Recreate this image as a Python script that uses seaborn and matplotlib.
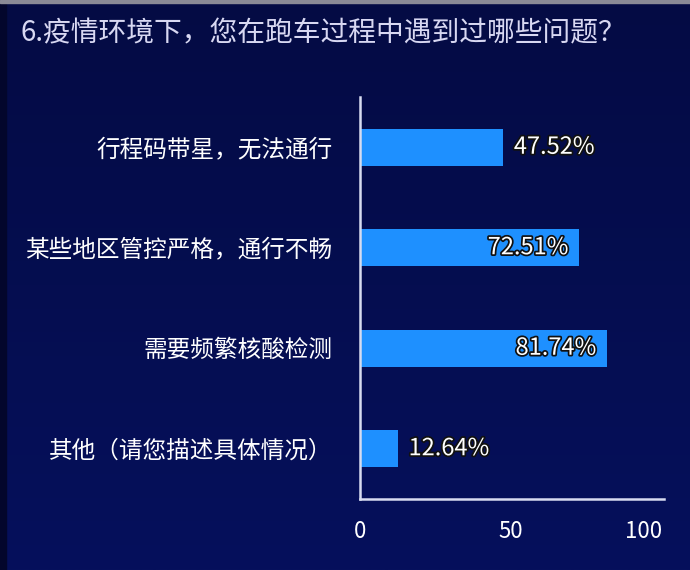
import numpy as np
import pandas as pd
import matplotlib
matplotlib.use("Agg")
import matplotlib.pyplot as plt
import matplotlib.patheffects as pe
from matplotlib.colors import LinearSegmentedColormap
import seaborn as sns

title = "6.疫情环境下，您在跑车过程中遇到过哪些问题？"
categories = ["行程码带星，无法通行", "某些地区管控严格，通行不畅", "需要频繁核酸检测", "其他（请您描述具体情况）"]
values = [47.52, 72.51, 81.74, 12.64]
xticks = [0, 50, 100]

sns.set_theme(style="white")
plt.rcParams['font.family'] = ['Noto Sans CJK SC', 'DejaVu Sans']

fig = plt.figure(figsize=(6.9, 5.7), dpi=100)

# background gradient
bg = fig.add_axes([0, 0, 1, 1], zorder=-10)
grad = np.linspace(0, 1, 256).reshape(-1, 1)
cmap = LinearSegmentedColormap.from_list("bg", ["#040b44", "#06105c"])
bg.imshow(grad, aspect="auto", cmap=cmap, extent=[0, 1, 0, 1], origin="upper")
bg.add_patch(plt.Rectangle((0, 0), 0.008, 1, color="#03062c", transform=bg.transAxes))
bg.add_patch(plt.Rectangle((0, 0.995), 1, 0.005, color="#8a8a96", transform=bg.transAxes))
bg.set_axis_off()

ax = fig.add_axes([0.5217, 0.1246, 0.4406, 0.7052])
ax.patch.set_alpha(0)

df = pd.DataFrame({"cat": categories, "val": values})
sns.barplot(data=df, x="val", y="cat", orient="h", color="#1e90ff",
            saturation=1, width=0.37, linewidth=0, edgecolor="none", ax=ax)

ax.set_xlim(0, 100.7)
ax.set_xticks(xticks)
ax.set_xticklabels([str(t) for t in xticks], fontsize=16, color="white")
ax.get_xticklabels()[-1].set_ha("right")
ax.set_xlabel("")
ax.set_ylabel("")
ax.tick_params(axis="x", length=0, pad=15)
ax.tick_params(axis="y", length=0, pad=20)
for lbl in ax.get_yticklabels():
    lbl.set_fontsize(17)
    lbl.set_color("white")
    lbl.set_fontweight("medium")

for s in ["top", "right"]:
    ax.spines[s].set_visible(False)
for s in ["left", "bottom"]:
    ax.spines[s].set_color("#d8dcf0")
    ax.spines[s].set_linewidth(1.8)

stroke = [pe.withStroke(linewidth=2.5, foreground="#111111")]
for i, v in enumerate(values):
    if v > 60:
        ax.annotate(f"{v:.2f}%", (v, i), xytext=(-7.5, 0), textcoords="offset points",
                    ha="right", va="center", fontsize=17, color="white",
                    fontweight="medium", path_effects=stroke)
    else:
        ax.annotate(f"{v:.2f}%", (v, i), xytext=(7.5, 0), textcoords="offset points",
                    ha="left", va="center", fontsize=17, color="white",
                    fontweight="medium", path_effects=stroke)

fig.text(0.029, 0.941, title, fontsize=20, color="#d8d8f2", ha="left", va="center")

fig.savefig("out.png", dpi=100, facecolor=fig.get_facecolor())
